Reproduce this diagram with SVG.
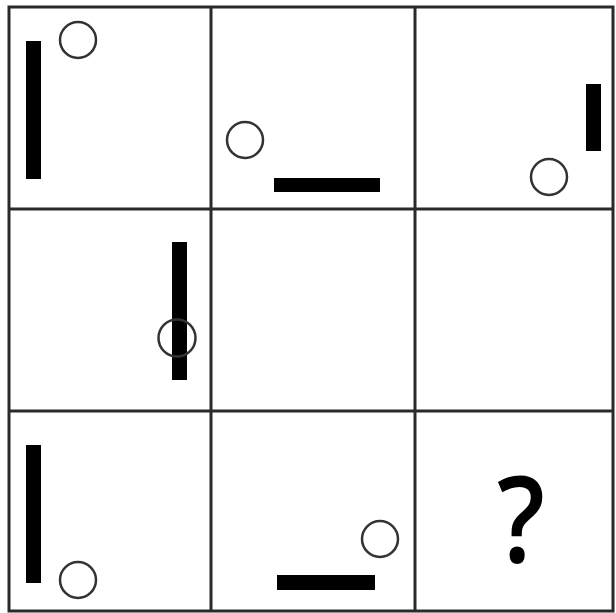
<svg xmlns="http://www.w3.org/2000/svg" width="616" height="613" viewBox="0 0 616 613">
<style>
.grid{fill:none;stroke:#2a2a2a;stroke-width:3}
.bar{fill:#000}
.ring{fill:none;stroke:#333;stroke-width:2.5}
.q{font-family:"Open Sans","Liberation Sans",Arial,sans-serif;font-size:120px;font-weight:600;fill:#000;text-anchor:middle}
</style>
<rect width="616" height="613" fill="#fff"/>
<g id="grid">
<rect class="grid" x="9" y="7" width="604" height="604"/>
<line class="grid" x1="211" y1="7" x2="211" y2="611"/>
<line class="grid" x1="415" y1="7" x2="415" y2="611"/>
<line class="grid" x1="9" y1="209" x2="613" y2="209"/>
<line class="grid" x1="9" y1="411" x2="613" y2="411"/>
</g>
<g id="cell11"><rect class="bar" x="26" y="41" width="15" height="138"/><circle class="ring" cx="78" cy="40" r="18"/></g>
<g id="cell12"><rect class="bar" x="274" y="178" width="106" height="14"/><circle class="ring" cx="245" cy="140" r="18"/></g>
<g id="cell13"><rect class="bar" x="586" y="84" width="15" height="67"/><circle class="ring" cx="549" cy="177" r="18"/></g>
<g id="cell21"><rect class="bar" x="172" y="242" width="15" height="138"/><circle class="ring" cx="177" cy="338" r="18.5"/></g>
<g id="cell31"><rect class="bar" x="26" y="445" width="15" height="138"/><circle class="ring" cx="78" cy="580" r="18"/></g>
<g id="cell32"><rect class="bar" x="277" y="575" width="98" height="15"/><circle class="ring" cx="380" cy="539" r="18"/></g>
<g id="cell33"><text class="q" transform="translate(521 562) scale(0.88 1)">?</text></g>
</svg>
